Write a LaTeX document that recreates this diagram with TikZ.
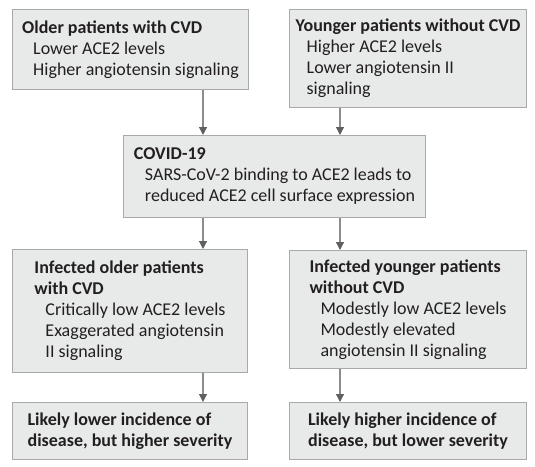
\documentclass[tikz,border=0pt]{standalone}
\usepackage{fontspec}
\setmainfont{Carlito}
\usetikzlibrary{arrows.meta}
\definecolor{boxfill}{HTML}{E7EAE9}
\definecolor{boxline}{HTML}{A7A9AC}
\definecolor{arrline}{HTML}{8C8C8C}
\definecolor{arrhead}{HTML}{5F6062}
\definecolor{txt}{HTML}{231F20}
\newcommand{\ind}{\hspace*{11pt}}
\begin{document}
\begin{tikzpicture}[x=1pt,y=-1pt,
  box/.style={draw=boxline, fill=boxfill, line width=1pt, anchor=north west,
    align=left, inner sep=0pt, font=\fontsize{18}{21}\selectfont, text=txt},
  arr/.style={draw=arrline, line width=1.2pt,
    -{Triangle[width=8pt,length=8pt,color=arrhead]}}]
\useasboundingbox (0,0) rectangle (535,466);
\coordinate (xl) at (203,0);
\coordinate (xr) at (340,0);
\node[box, minimum width=236pt, minimum height=80pt] (older) at (12,9)
  {\textbf{Older patients with CVD}\\ \ind Lower ACE2 levels\\ \ind Higher angiotensin signaling};
\node[box, minimum width=237pt, minimum height=98pt] (younger) at (289,9)
  {\textbf{Younger patients without CVD}\\ \ind Higher ACE2 levels\\ \ind Lower angiotensin II\\ \ind signaling};
\node[box, minimum width=302pt, minimum height=82pt] (covid) at (123,135)
  {\textbf{COVID-19}\\ \ind SARS-CoV-2 binding to ACE2 leads to\\ \ind reduced ACE2 cell surface expression};
\node[box, minimum width=235pt, minimum height=123pt] (infold) at (12,249)
  {\textbf{Infected older patients}\\ \textbf{with CVD}\\ \ind Critically low ACE2 levels\\ \ind Exaggerated angiotensin\\ \ind II signaling};
\node[box, minimum width=237pt, minimum height=118pt] (infyoung) at (289,250)
  {\textbf{Infected younger patients}\\ \textbf{without CVD}\\ \ind Modestly low ACE2 levels\\ \ind Modestly elevated\\ \ind angiotensin II signaling};
\node[box, minimum width=235pt, minimum height=57pt] (lower) at (12,402)
  {\textbf{Likely lower incidence of}\\ \textbf{disease, but higher severity}};
\node[box, minimum width=237pt, minimum height=57pt] (higher) at (289,402)
  {\textbf{Likely higher incidence of}\\ \textbf{disease, but lower severity}};
\draw[arr] (older.south -| xl) -- (covid.north -| xl);
\draw[arr] (younger.south -| xr) -- (covid.north -| xr);
\draw[arr] (covid.south -| xl) -- (infold.north -| xl);
\draw[arr] (covid.south -| xr) -- (infyoung.north -| xr);
\draw[arr] (infold.south -| xl) -- (lower.north -| xl);
\draw[arr] (infyoung.south -| xr) -- (higher.north -| xr);
\end{tikzpicture}
\end{document}
